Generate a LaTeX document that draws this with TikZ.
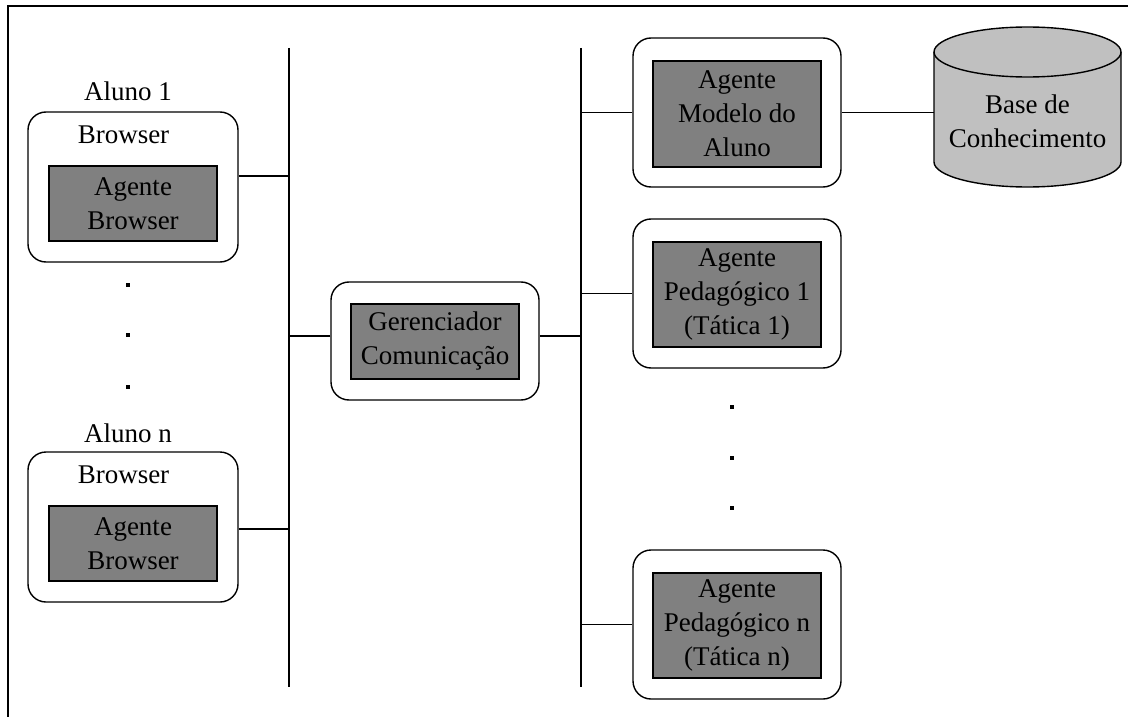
\documentclass[tikz,border=0pt]{standalone}
\usepackage{fontspec}
\setmainfont{Liberation Serif}
\definecolor{agentgray}{HTML}{808080}
\definecolor{basegray}{HTML}{C0C0C0}
\newcommand\figfont{\fontsize{27}{34}\selectfont}
\begin{document}
\begin{tikzpicture}[x=1pt,y=-1pt,
  lbl/.style={font=\figfont, inner sep=0, anchor=base},
  shell/.style={draw, line width=1.4pt, rounded corners=18pt, fill=white,
                minimum width=208pt, minimum height=149pt, inner sep=0},
  agent/.style={draw, line width=1.4pt, fill=agentgray, minimum width=168pt,
                align=center, font=\figfont, inner sep=0},
  wire/.style={line width=1.4pt},
  dot/.style={rectangle, fill, inner sep=0, minimum size=3.5pt}]
\useasboundingbox (0,0) rectangle (1128,717);

% frame
\draw[wire] (8,717) -- (8,6) -- (1128,6);

% the two buses
\coordinate (lbT) at (289,48);  \coordinate (lbB) at (289,687);
\coordinate (rbT) at (581,48);  \coordinate (rbB) at (581,687);
\draw[wire] (lbT) -- (lbB);
\draw[wire] (rbT) -- (rbB);

% students
\node[shell, minimum width=210pt, minimum height=150pt] (s1) at (133,187) {};
\node[agent, minimum height=75pt] (b1) at (133,203.5) {Agente\\Browser};
\node[lbl] (al1) at (128,101) {Aluno 1};
\node[lbl] (br1) at (123.5,143) {Browser};
\draw[wire] ([yshift=11pt]s1.east) -- ([yshift=11pt]s1.east -| lbT);

\node[dot] (ld1) at (128,285) {};
\node[dot] (ld2) at (128,335) {};
\node[dot] (ld3) at (128,387) {};

\node[shell, minimum width=210pt, minimum height=150pt] (s2) at (133,527) {};
\node[agent, minimum height=75pt] (b2) at (133,543.5) {Agente\\Browser};
\node[lbl] (al2) at (128,442) {Aluno n};
\node[lbl] (br2) at (123.5,483) {Browser};
\draw[wire] ([yshift=-2pt]s2.east) -- ([yshift=-2pt]s2.east -| lbT);

% communication manager
\node[shell, minimum height=118pt] (sg) at (435,341) {};
\node[agent, minimum height=75pt] (g) at (435,341.5) {Gerenciador\\Comunica\c{c}\~ao};
\draw[wire] ([yshift=5pt]sg.west) -- ([yshift=5pt]sg.west -| lbT);
\draw[wire] ([yshift=5pt]sg.east) -- ([yshift=5pt]sg.east -| rbT);

% student model agent
\node[shell] (sm) at (737,112.5) {};
\node[agent, minimum height=106pt] (m) at (737,114) {Agente\\Modelo do\\Aluno};
\draw[wire] (sm.west) -- (sm.west -| rbT);

% knowledge base cylinder
\filldraw[wire, fill=basegray] (934,52) -- (934,162)
  arc[start angle=180, end angle=360, x radius=93.5pt, y radius=25pt]
  -- (1121,52)
  arc[start angle=0, end angle=180, x radius=93.5pt, y radius=25pt] -- cycle;
\draw[wire] (934,52) arc[start angle=180, end angle=360, x radius=93.5pt, y radius=25pt];
\node[font=\figfont, align=center, inner sep=0, minimum width=187pt] (kb) at (1027.5,121) {Base de\\Conhecimento};
\draw[wire] (sm.east) -- (sm.east -| kb.west);

% pedagogical agents
\node[shell] (sp1) at (737,293.5) {};
\node[agent, minimum height=105pt] (p1) at (737,294.5) {Agente\\Pedag\'ogico 1\\(T\'atica 1)};
\draw[wire] (sp1.west) -- (sp1.west -| rbT);

\node[dot] (rd1) at (732,407) {};
\node[dot] (rd2) at (732,458) {};
\node[dot] (rd3) at (732,508) {};

\node[shell] (spn) at (737,624.5) {};
\node[agent, minimum height=105pt] (pn) at (737,625.5) {Agente\\Pedag\'ogico n\\(T\'atica n)};
\draw[wire] (spn.west) -- (spn.west -| rbT);
\end{tikzpicture}
\end{document}
